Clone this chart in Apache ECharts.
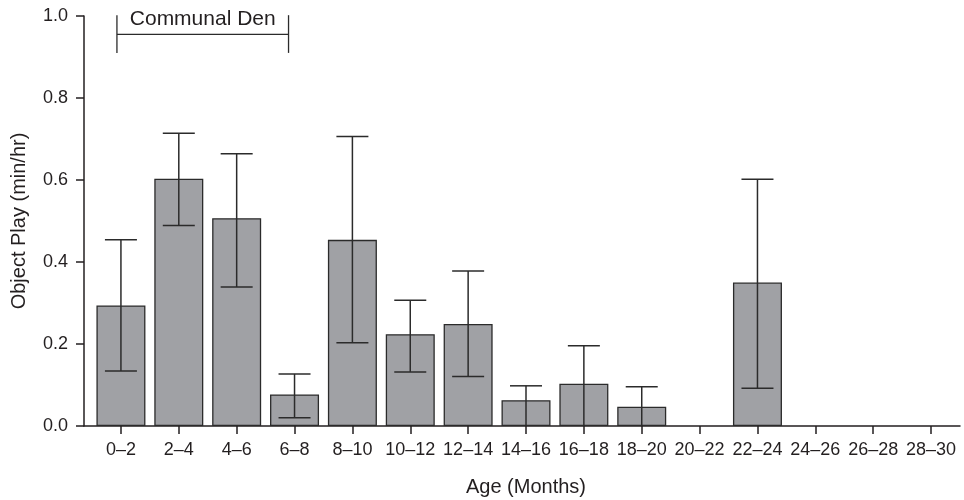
<!DOCTYPE html>
<html>
<head>
<meta charset="utf-8">
<script src="https://cdn.jsdelivr.net/npm/echarts@6/dist/echarts.min.js"></script>
<style>
  html, body { margin: 0; padding: 0; background: #fff; }
  #chart { width: 964px; height: 500px; }
</style>
</head>
<body>
<div id="chart"></div>
<script>
// age classes (months)
const ageClasses = ['0–2', '2–4', '4–6', '6–8', '8–10', '10–12', '12–14', '14–16',
  '16–18', '18–20', '20–22', '22–24', '24–26', '26–28', '28–30'];
// mean object play (min/hr); no bar drawn for empty classes
const playMean = [0.294, 0.603, 0.507, 0.077, 0.454, 0.224, 0.249, 0.063,
  0.103, 0.047, null, 0.350, null, null, null];
// error bar ends
const errUpper = [0.454, 0.714, 0.664, 0.127, 0.706, 0.307, 0.378, 0.098,
  0.196, 0.096, null, 0.602, null, null, null];
const errLower = [0.134, 0.489, 0.339, 0.020, 0.203, 0.132, 0.121, 0,
  0, 0, null, 0.092, null, null, null];
// communal den bracket: first / last age class, y of bar, y of end ticks
const denRange = ['0–2', '6–8'];
const denLabel = 'Communal Den';
const denLevel = 0.955;
const denTicks = [0.91, 1.002];
const yTicks = [0, 0.2, 0.4, 0.6, 0.8, 1.0];

const FONT = 'Liberation Sans';
const INK = '#231f20';

const chart = echarts.init(document.getElementById('chart'));

const errData = ageClasses.map((c, i) => [i, errLower[i], errUpper[i]])
  .filter(d => d[2] != null);

const option = {
  backgroundColor: '#fff',
  animation: false,
  textStyle: { fontFamily: FONT },
  grid: [
    { left: 92, right: 4, top: 16, bottom: 74, outerBoundsMode: 'none' },
    { left: 84, right: 4, top: 16, bottom: 74, outerBoundsMode: 'none' }
  ],
  xAxis: [
    {
      type: 'category',
      data: ageClasses,
      gridIndex: 0,
      name: 'Age (Months)',
      nameLocation: 'middle',
      nameGap: 51,
      nameTextStyle: { fontSize: 20, color: INK, fontFamily: FONT },
      axisLine: { show: false },
      axisTick: { show: true, alignWithLabel: true, length: 8, lineStyle: { color: INK, width: 1.5 } },
      axisLabel: { fontSize: 18, color: INK, margin: 15, interval: 0, fontFamily: FONT },
      splitLine: { show: false }
    },
    {
      type: 'value',
      gridIndex: 1,
      position: 'bottom',
      min: 0,
      max: 1,
      axisLine: { show: true, onZero: false, lineStyle: { color: INK, width: 1.5 } },
      axisTick: { show: false },
      axisLabel: { show: false },
      splitLine: { show: false }
    }
  ],
  yAxis: [
    {
      type: 'value',
      gridIndex: 0,
      min: 0,
      max: 1,
      interval: 0.2,
      offset: 8,
      name: 'Object Play (min/hr)',
      nameLocation: 'middle',
      nameGap: 55,
      nameTextStyle: { fontSize: 20, color: INK, fontFamily: FONT },
      axisLine: { show: true, lineStyle: { color: INK, width: 1.5 } },
      axisTick: { show: true, length: 8, lineStyle: { color: INK, width: 1.5 } },
      axisLabel: {
        fontSize: 18, color: INK, margin: 16, fontFamily: FONT,
        formatter: v => yTicks.includes(+v.toFixed(1)) ? v.toFixed(1) : ''
      },
      splitLine: { show: false }
    },
    {
      type: 'value',
      gridIndex: 1,
      show: false,
      min: 0,
      max: 1
    }
  ],
  series: [
    {
      name: 'Object play',
      type: 'bar',
      xAxisIndex: 0,
      yAxisIndex: 0,
      data: playMean,
      barWidth: 49,
      z: 3,
      itemStyle: { color: '#a0a1a5', borderColor: '#2b2b2b', borderWidth: 1.3 }
    },
    {
      name: 'Error',
      type: 'custom',
      xAxisIndex: 0,
      yAxisIndex: 0,
      data: errData,
      z: 5,
      renderItem: function (params, api) {
        const x = api.value(0);
        const lo = api.coord([x, api.value(1)]);
        const hi = api.coord([x, api.value(2)]);
        const half = 16;
        const style = { stroke: '#2b2b2b', lineWidth: 1.5 };
        const children = [
          { type: 'line', shape: { x1: hi[0], y1: hi[1], x2: lo[0], y2: lo[1] }, style },
          { type: 'line', shape: { x1: hi[0] - half, y1: hi[1], x2: hi[0] + half, y2: hi[1] }, style }
        ];
        if (api.value(1) > 0) {
          children.push({ type: 'line', shape: { x1: lo[0] - half, y1: lo[1], x2: lo[0] + half, y2: lo[1] }, style });
        }
        return { type: 'group', children };
      }
    },
    {
      name: 'Communal Den',
      type: 'custom',
      xAxisIndex: 0,
      yAxisIndex: 0,
      clip: false,
      data: [[ageClasses.indexOf(denRange[0]), ageClasses.indexOf(denRange[1])]],
      renderItem: function (params, api) {
        const a = api.coord([api.value(0), denLevel]);
        const b = api.coord([api.value(1), denLevel]);
        const top = api.coord([0, denTicks[1]])[1];
        const bot = api.coord([0, denTicks[0]])[1];
        const x1 = a[0] - 4, x2 = b[0] - 6;
        const style = { stroke: '#2b2b2b', lineWidth: 1.3 };
        return {
          type: 'group',
          children: [
            { type: 'line', shape: { x1: x1, y1: a[1], x2: x2, y2: b[1] }, style },
            { type: 'line', shape: { x1: x1, y1: top, x2: x1, y2: bot }, style },
            { type: 'line', shape: { x1: x2, y1: top, x2: x2, y2: bot }, style },
            {
              type: 'text',
              style: {
                text: denLabel, x: (x1 + x2) / 2, y: a[1] - 5,
                align: 'center', verticalAlign: 'bottom',
                fontSize: 21, fontFamily: FONT, fill: INK
              }
            }
          ]
        };
      }
    }
  ]
};

chart.setOption(option);
</script>
</body>
</html>
